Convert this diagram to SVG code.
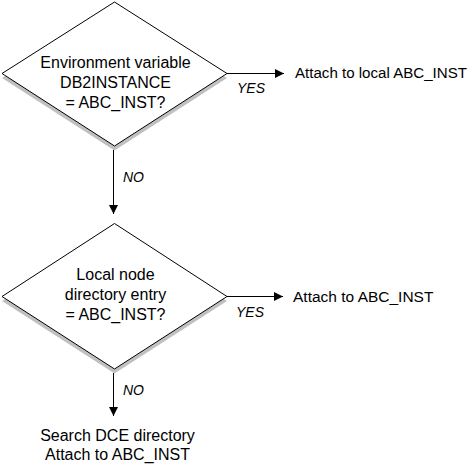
<svg xmlns="http://www.w3.org/2000/svg" width="474" height="465" viewBox="0 0 474 465">
<style>
.shadow{fill:#c0c0c0;stroke:none}
.box{fill:#fff;stroke:#000;stroke-width:1}
.t{font-family:"Liberation Sans",Arial,sans-serif;font-size:16px;fill:#000}
.c{text-anchor:middle}
.lbl{font-family:"Liberation Sans",Arial,sans-serif;font-size:14px;font-style:italic;fill:#000}
.edge{stroke:#000;stroke-width:1;fill:none;marker-end:url(#ah)}
</style>
<defs>
<marker id="ah" viewBox="0 0 10 10" refX="10" refY="5" markerWidth="9" markerHeight="10" markerUnits="userSpaceOnUse" orient="auto">
<path d="M0,0 L10,5 L0,10 Z" fill="#000"/>
</marker>
</defs>
<rect width="474" height="465" fill="#fff"/>
<g id="decision1">
<polygon class="shadow" points="114.5,6 227,78 114.5,150.5 2,78"/>
<polygon class="box" points="114.5,2 227,73.5 114.5,146 2,73.5"/>
<text class="t c" x="115.5" y="68">Environment variable</text>
<text class="t c" x="115.5" y="88">DB2INSTANCE</text>
<text class="t c" x="115.5" y="108">= ABC_INST?</text>
</g>
<g id="result1">
<text class="t" x="295" y="78" style="font-size:15.1px">Attach to local ABC_INST</text>
</g>
<g id="decision2">
<polygon class="shadow" points="114.5,227.5 227,301 114.5,373.5 2,301"/>
<polygon class="box" points="114.5,223.5 227,296.5 114.5,369 2,296.5"/>
<text class="t c" x="115.5" y="280">Local node</text>
<text class="t c" x="115.5" y="300">directory entry</text>
<text class="t c" x="115.5" y="320">= ABC_INST?</text>
</g>
<g id="result2">
<text class="t" x="293" y="302" style="font-size:15.5px">Attach to ABC_INST</text>
</g>
<g id="result3">
<text class="t c" x="117.5" y="441">Search DCE directory</text>
<text class="t c" x="117.5" y="460">Attach to ABC_INST</text>
</g>
<g id="connectors">
<line class="edge" x1="227" y1="73.5" x2="284" y2="73.5"/>
<text class="lbl" x="237" y="93">YES</text>
<line class="edge" x1="113.5" y1="150" x2="113.5" y2="214"/>
<text class="lbl" x="123" y="182">NO</text>
<line class="edge" x1="227" y1="296.5" x2="283" y2="296.5"/>
<text class="lbl" x="236" y="317">YES</text>
<line class="edge" x1="113.5" y1="373" x2="113.5" y2="416"/>
<text class="lbl" x="123" y="395">NO</text>
</g>
</svg>
